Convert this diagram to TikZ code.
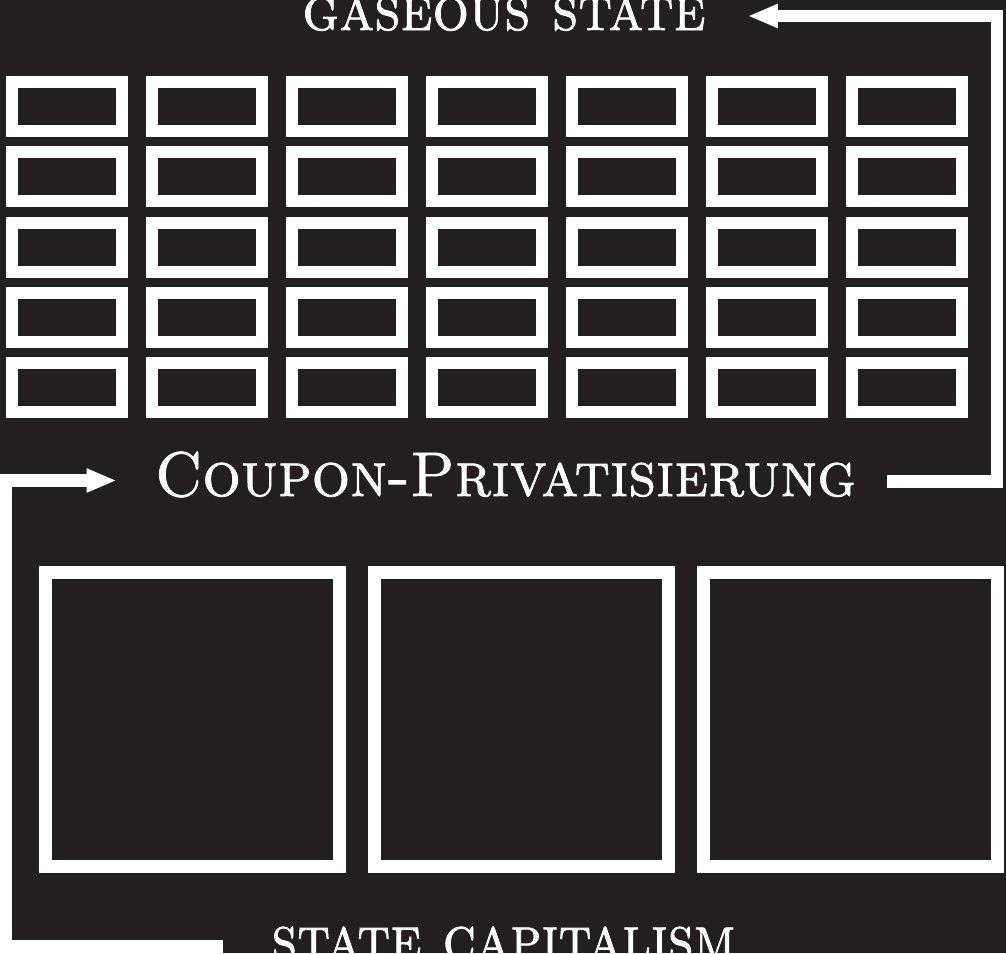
\documentclass[tikz,border=0pt]{standalone}
\usepackage{fontspec}
\usepackage{tikz}
\usetikzlibrary{arrows.meta}
\newfontfamily\capsfont{lmromancaps10-regular.otf}[FakeBold=1.2]
\definecolor{inkbg}{HTML}{231F20}
\newcommand{\captext}[2][0.96]{\scalebox{#1}[1]{#2}}

\begin{document}
\begin{tikzpicture}[x=1pt,y=-1pt,
  caption/.style={text=white,font=\fontsize{63}{68}\capsfont,inner sep=0pt,anchor=base},
  cell/.style={draw=white,line width=12pt},
  block/.style={draw=white,line width=13pt},
  link/.style={draw=white,line width=12.5pt,line join=miter},
  >={Triangle[length=30pt,width=22pt]}]
  \fill[inkbg] (0,0) rectangle (1006,953);
  \clip (0,0) rectangle (1006,953);
  % small cells, 7 x 5
  \foreach \i in {0,...,6}{
    \foreach \j in {0,...,4}{
      \draw[cell] ({12+140*\i},{82+70.25*\j}) rectangle ++(110,49);
    }
  }
  % large blocks
  \foreach \x in {45.5,374.5,703.5}{
    \draw[block] (\x,572.5) rectangle ++(294,294);
  }
  \node[caption] (gaseous) at (504,30) {\captext[0.91]{gaseous state}};
  \node[caption] (coupon) at (505.5,496) {\captext{Coupon-Privatisierung}};
  \node[caption] (capital) at (503.5,960) {\captext[0.89]{state capitalism}};
  \coordinate (turnR) at (997,16);
  \coordinate (turnL) at (6,480.5);
  \draw[link,->] ([xshift=31pt,yshift=14.5pt]coupon.base east) -| (turnR)
    -- ([xshift=42pt,yshift=14pt]gaseous.base east);
  \draw[link,->] ([xshift=-48pt,yshift=13.5pt]capital.base west) -| (turnL)
    -- ([xshift=-38pt,yshift=15.5pt]coupon.base west);
\end{tikzpicture}
\end{document}
